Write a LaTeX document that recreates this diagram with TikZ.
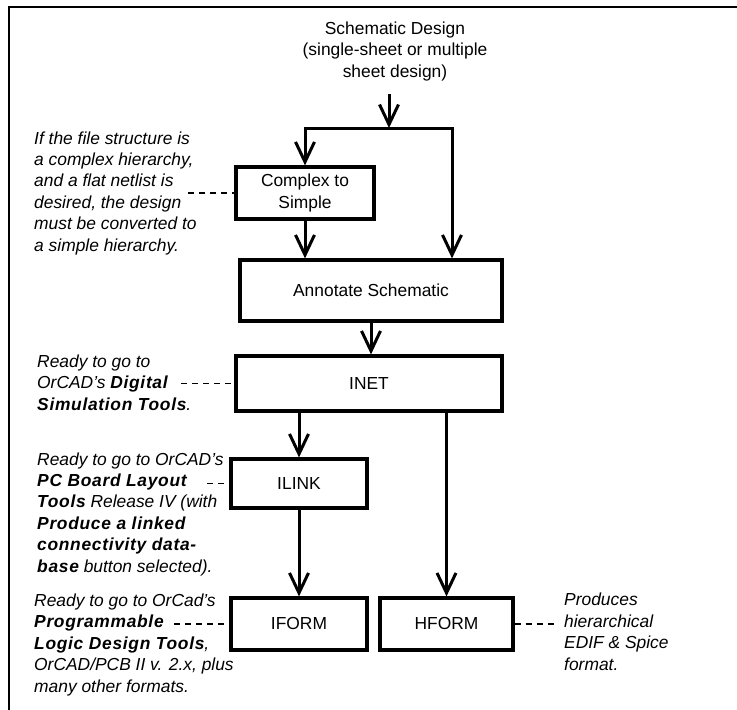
\documentclass[tikz,border=0pt]{standalone}
\usepackage{fontspec}
\setmainfont{Liberation Sans}
\usetikzlibrary{arrows.meta,positioning}
\newcommand{\bterm}[1]{{\bfseries\addfontfeature{LetterSpace=4}#1}}

\begin{document}
\begin{tikzpicture}[x=1pt, y=-1pt,
    every node/.style={font=\fontsize{17.4}{21.4}\selectfont},
    box/.style={draw, line width=3.2pt, inner sep=0pt},
    note/.style={align=left, inner sep=0pt, anchor=base west, font=\fontsize{17.4}{21.4}\selectfont\itshape},
    arr/.style={line width=3pt, -{Straight Barb[length=20pt, width=19pt]}},
    leader/.style={line width=1.5pt, dash pattern=on 6pt off 5pt}]
    \useasboundingbox (0,0) rectangle (737,710);
    \draw[line width=1.6pt] (737,7) -- (9,7) -- (9,710);

    % flow boxes
    \node[align=center, anchor=base, inner sep=0pt] (title) at (395,77) {Schematic Design\\(single-sheet or multiple\\sheet design)};
    \node[box, align=center, minimum width=138pt, minimum height=52pt] (cts) at (305,193) {Complex to\\Simple};
    \node[box, minimum width=262pt, minimum height=61pt] (annot) at (371,290.5) {Annotate Schematic};
    \node[box, minimum width=266pt, minimum height=55pt] (inet) at (369,383.5) {INET};
    \node[box, minimum width=136pt, minimum height=49pt] (ilink) at (299,483.5) {ILINK};
    \node[box, minimum width=136pt, minimum height=52pt] (iform) at (299,624) {IFORM};
    \node[box, minimum width=133pt, minimum height=52pt] (hform) at (446.5,624) {HFORM};

    % side notes (placed by their last line)
    \node[note] (ctsnote) at (34,251) {If the file structure is\\a complex hierarchy,\\and a flat netlist is\\desired, the design\\must be converted to\\a simple hierarchy.};
    \node[note] (inetnote) at (37,410) {Ready to go to\\OrCAD's \bterm{Digital}\\\bterm{Simulation Tools}.};
    \node[note] (ilinknote) at (37,572) {Ready to go to OrCAD's\\\bterm{PC Board Layout}\\\bterm{Tools} Release IV (with\\\bterm{Produce a linked}\\\bterm{connectivity data-}\\\bterm{base} button selected).};
    \node[note] (iformnote) at (34,692) {Ready to go to OrCad's\\\bterm{Programmable}\\\bterm{Logic Design Tools},\\OrCAD/PCB II v. 2.x, plus\\many other formats.};
    \node[note] (hformnote) at (564,670) {Produces\\hierarchical\\EDIF \& Spice\\format.};

    % connectors
    \coordinate (feed) at (389,94);
    \coordinate (split) at (389,128);
    \coordinate (rb) at (452,128);
    \draw[arr] (feed) -- (split);
    \draw[arr] (split) -| (cts.north);
    \draw[arr] (split) -- (rb) -- (rb |- annot.north);
    \draw[arr] (cts.south) -- (cts.south |- annot.north);
    \draw[arr] (annot.south) -- (annot.south |- inet.north);
    \draw[arr] (ilink.north |- inet.south) -- (ilink.north);
    \draw[arr] (ilink.south) -- (iform.north);
    \draw[arr] (hform.north |- inet.south) -- (hform.north);

    % dashed leaders
    \coordinate (ctsend) at (188,193);
    \coordinate (inetend) at (181,383.5);
    \coordinate (ilinkend) at (207,483.5);
    \coordinate (iformend) at (174,624);
    \coordinate (hformend) at (556,624);
    \draw[leader] (ctsend) -- (cts.west);
    \draw[leader] (inetend) -- (inet.west);
    \draw[leader] (ilinkend) -- (ilink.west);
    \draw[leader] (iformend) -- (iform.west);
    \draw[leader] (hform.east) -- (hformend);
\end{tikzpicture}
\end{document}
